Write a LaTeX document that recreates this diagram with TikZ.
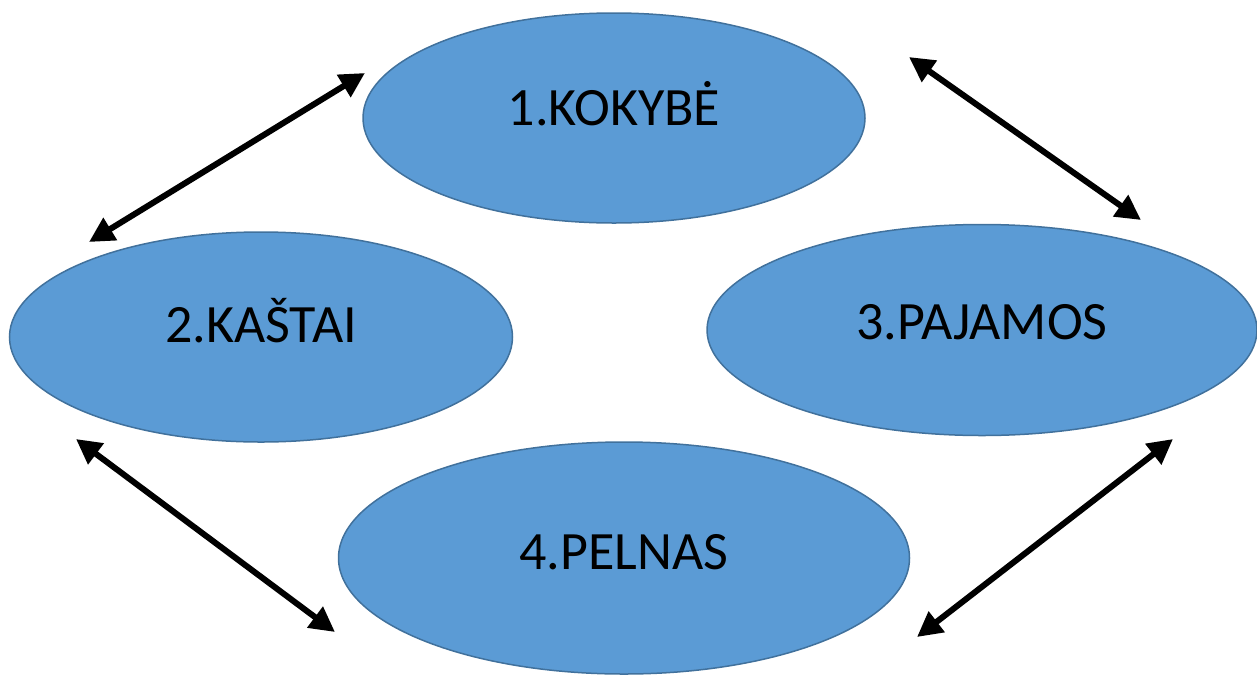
\documentclass[tikz,border=0pt]{standalone}
\usepackage{fontspec}
\setmainfont{Carlito}
\usetikzlibrary{shapes.geometric,arrows.meta}
\definecolor{ellfill}{HTML}{5B9BD5}
\definecolor{elldraw}{HTML}{41719C}
\tikzset{
  ell/.style={ellipse, fill=ellfill, draw=elldraw, line width=1.5pt, inner sep=0pt},
  lbl/.style={inner sep=0pt, text height=34pt, text depth=0pt, text=black,
    font=\fontsize{54}{64}\selectfont},
  dblarrow/.style={line width=6pt, {Triangle[length=25pt,width=25pt]}-{Triangle[length=25pt,width=25pt]}}
}
\begin{document}
\begin{tikzpicture}[x=1pt,y=-1pt]
\useasboundingbox (0,0) rectangle (1257,675);
\node[ell, minimum width=502pt, minimum height=210pt] (k) at (614,118) {};
\node[ell, minimum width=503pt, minimum height=210pt] (ka) at (261,337) {};
\node[ell, minimum width=550pt, minimum height=211pt] (p) at (982,330) {};
\node[ell, minimum width=571pt, minimum height=232pt] (pe) at (624,558) {};
\node[lbl] (kt) at ([yshift=10pt]k.center) {1.KOKYBĖ};
\node[lbl] (kat) at ([yshift=12pt]ka.center) {2.KAŠTAI};
\node[lbl] (pt) at ([yshift=8pt]p.center) {3.PAJAMOS};
\node[lbl] (pet) at ([yshift=6pt]pe.center) {4.PELNAS};
\coordinate (a1s) at (365,73);
\coordinate (a1e) at (89,242);
\coordinate (a2s) at (909,57);
\coordinate (a2e) at (1141,220);
\coordinate (a3s) at (76,439);
\coordinate (a3e) at (335,632);
\coordinate (a4s) at (1173,439);
\coordinate (a4e) at (917,637);
\draw[dblarrow] (a1s) -- (a1e);
\draw[dblarrow] (a2s) -- (a2e);
\draw[dblarrow] (a3s) -- (a3e);
\draw[dblarrow] (a4s) -- (a4e);
\end{tikzpicture}
\end{document}
